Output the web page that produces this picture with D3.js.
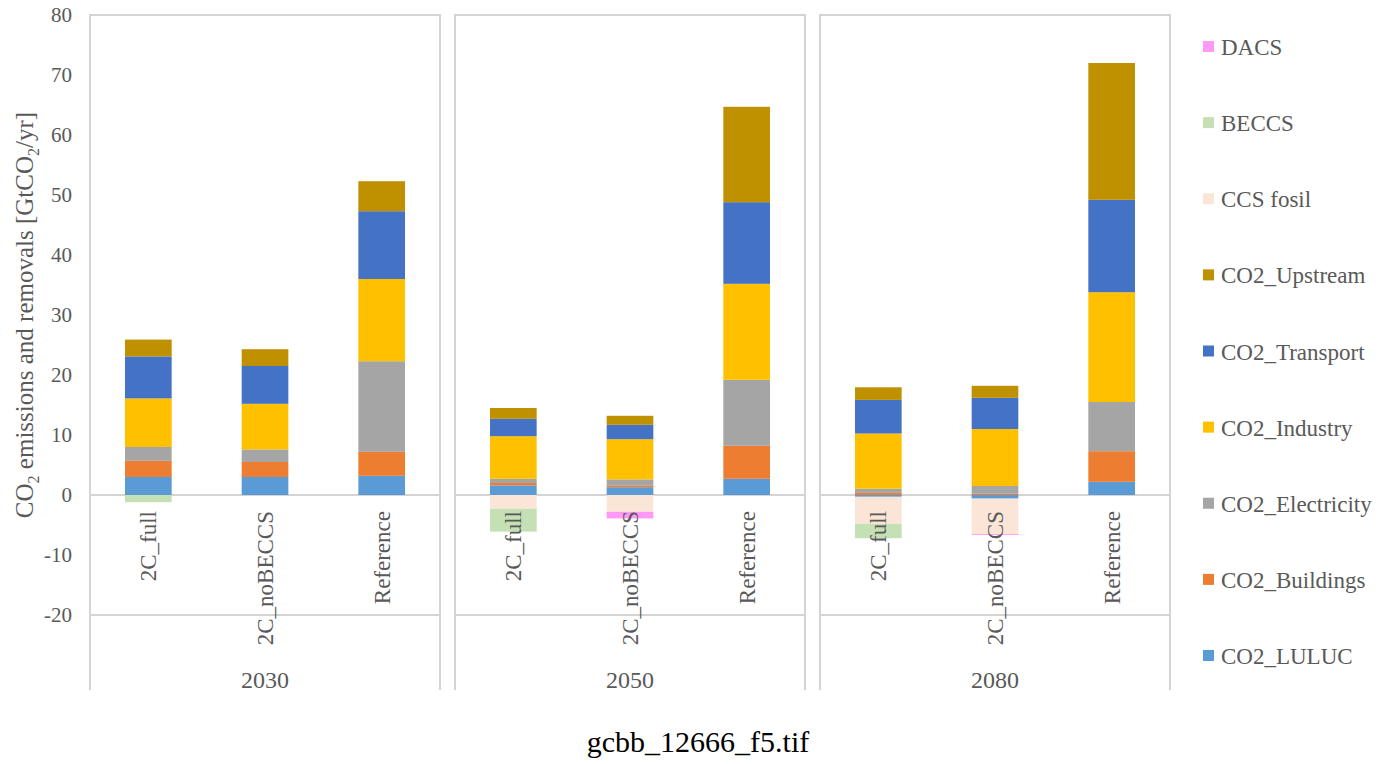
<!DOCTYPE html>
<html>
<head>
<meta charset="utf-8">
<script src="https://cdn.jsdelivr.net/npm/d3@7"></script>
<style>
  body { margin: 0; background: #fff; }
  svg { display: block; }
  text { font-family: "Liberation Serif", "Times New Roman", serif; }
</style>
</head>
<body>
<svg id="chart" width="1397" height="764"></svg>
<script>
// Categories
const years = ["2030", "2050", "2080"];
const scenarios = ["2C_full", "2C_noBECCS", "Reference"];

// Series values, one per (year, scenario) in order: 2030 x3, 2050 x3, 2080 x3
const CO2_LULUC       = [3.0, 3.0, 3.2,   1.6, 1.3, 2.7,   -0.3, -0.6, 2.2];
const CO2_Buildings   = [2.7, 2.5, 4.0,   0.4, 0.3, 5.5,   0.35, 0.2, 5.1];
const CO2_Electricity = [2.3, 2.1, 15.1,  0.7, 1.0, 11.0,  0.7, 1.3, 8.2];
const CO2_Industry    = [8.1, 7.6, 13.7,  7.1, 6.7, 16.0,  9.2, 9.5, 18.3];
const CO2_Transport   = [7.0, 6.3, 11.3,  2.9, 2.4, 13.6,  5.6, 5.2, 15.4];
const CO2_Upstream    = [2.8, 2.8, 5.0,   1.8, 1.5, 15.9,  2.1, 2.0, 22.8];
const CCS_fosil       = [0, 0, 0,         -2.3, -2.8, 0,   -4.5, -5.9, 0];
const BECCS           = [-1.2, 0, 0,      -3.8, 0, 0,      -2.4, 0, 0];
const DACS            = [0, 0, 0,         0, -1.1, 0,      0, -0.15, 0];

// Stack order (bottom to top); legend lists them top to bottom in reverse
const seriesNames = ["CO2_LULUC", "CO2_Buildings", "CO2_Electricity", "CO2_Industry",
  "CO2_Transport", "CO2_Upstream", "CCS fosil", "BECCS", "DACS"];
const seriesValues = [CO2_LULUC, CO2_Buildings, CO2_Electricity, CO2_Industry,
  CO2_Transport, CO2_Upstream, CCS_fosil, BECCS, DACS];
const seriesColors = ["#5b9bd5", "#ed7d31", "#a5a5a5", "#ffc000",
  "#4472c4", "#bf9000", "#fbe5d6", "#c5e0b4", "#ff99f5"];

const yTicks = [-20, -10, 0, 10, 20, 30, 40, 50, 60, 70, 80];

// Build rows for d3.stack
const rows = [];
years.forEach((yr, yi) => {
  scenarios.forEach((sc, si) => {
    const row = { year: yr, scenario: sc };
    seriesNames.forEach((name, k) => {
      row[name] = seriesValues[k][yi * scenarios.length + si];
    });
    rows.push(row);
  });
});

const stacked = d3.stack()
  .keys(seriesNames)
  .offset(d3.stackOffsetDiverging)(rows);

const color = d3.scaleOrdinal().domain(seriesNames).range(seriesColors);

const svg = d3.select("#chart");
const gridColor = "#d4d4d4";
const textColor = "#595959";

// Scales
const y = d3.scaleLinear().domain([-20, 80]).range([615, 15]);
const xYear = d3.scaleBand().domain(years).range([90, 1170]).paddingInner(0.041);

// Panels
years.forEach(yr => {
  const left = xYear(yr);
  const right = left + xYear.bandwidth();
  const xScen = d3.scaleBand().domain(scenarios).range([left, right])
    .paddingInner(0.6).paddingOuter(0.3);

  const g = svg.append("g");

  // frame: top, sides, zero line, -20 line
  g.append("path")
    .attr("d", `M${left},690 V${y(80)} H${right} V690`)
    .attr("fill", "none")
    .attr("stroke", gridColor)
    .attr("stroke-width", 2);
  [0, -20].forEach(v => {
    g.append("line")
      .attr("x1", left).attr("x2", right)
      .attr("y1", y(v)).attr("y2", y(v))
      .attr("stroke", gridColor)
      .attr("stroke-width", 2);
  });

  // bars
  stacked.forEach(layer => {
    const segs = layer.filter(d => d.data.year === yr);
    g.selectAll(null)
      .data(segs)
      .join("rect")
      .attr("x", d => xScen(d.data.scenario))
      .attr("width", xScen.bandwidth())
      .attr("y", d => y(Math.max(d[0], d[1])))
      .attr("height", d => Math.abs(y(d[0]) - y(d[1])))
      .attr("fill", color(layer.key));
  });

  // scenario labels (rotated)
  g.selectAll(null)
    .data(scenarios)
    .join("text")
    .attr("transform", d => `translate(${xScen(d) + xScen.bandwidth() / 2 + 8},511) rotate(-90)`)
    .attr("text-anchor", "end")
    .attr("font-size", 23)
    .attr("fill", textColor)
    .text(d => d);

  // year label
  g.append("text")
    .attr("x", (left + right) / 2)
    .attr("y", 688)
    .attr("text-anchor", "middle")
    .attr("font-size", 24)
    .attr("fill", textColor)
    .text(yr);
});

// Y axis tick labels (plain hyphen for negatives, as in the original)
const yAxis = d3.axisLeft(y).tickValues(yTicks).tickSize(0).tickPadding(0)
  .tickFormat(d => String(d));
const yg = svg.append("g").attr("transform", "translate(72,0)").call(yAxis);
yg.select(".domain").remove();
yg.selectAll("text")
  .attr("font-family", "Liberation Serif, Times New Roman, serif")
  .attr("font-size", 21)
  .attr("fill", textColor);

// Y axis title
const title = svg.append("text")
  .attr("transform", "translate(33,315) rotate(-90)")
  .attr("text-anchor", "middle")
  .attr("font-size", 25)
  .attr("fill", textColor);
title.append("tspan").text("CO");
title.append("tspan").attr("font-size", 16).attr("dy", 6).text("2");
title.append("tspan").attr("dy", -6).text(" emissions and removals [GtCO");
title.append("tspan").attr("font-size", 16).attr("dy", 6).text("2");
title.append("tspan").attr("dy", -6).text("/yr]");

// Legend
const legendOrder = seriesNames.slice().reverse();
const ly = d3.scalePoint().domain(legendOrder).range([47, 656]);
const lg = svg.append("g");
lg.selectAll("rect")
  .data(legendOrder)
  .join("rect")
  .attr("x", 1203)
  .attr("y", d => ly(d) - 6)
  .attr("width", 11)
  .attr("height", 11)
  .attr("fill", d => color(d));
lg.selectAll("text")
  .data(legendOrder)
  .join("text")
  .attr("x", 1221)
  .attr("y", d => ly(d) + 8)
  .attr("font-size", 23)
  .attr("fill", textColor)
  .text(d => d);

// Caption
svg.append("text")
  .attr("x", 698)
  .attr("y", 752)
  .attr("text-anchor", "middle")
  .attr("font-size", 30)
  .attr("fill", "#000")
  .text("gcbb_12666_f5.tif");
</script>
</body>
</html>
